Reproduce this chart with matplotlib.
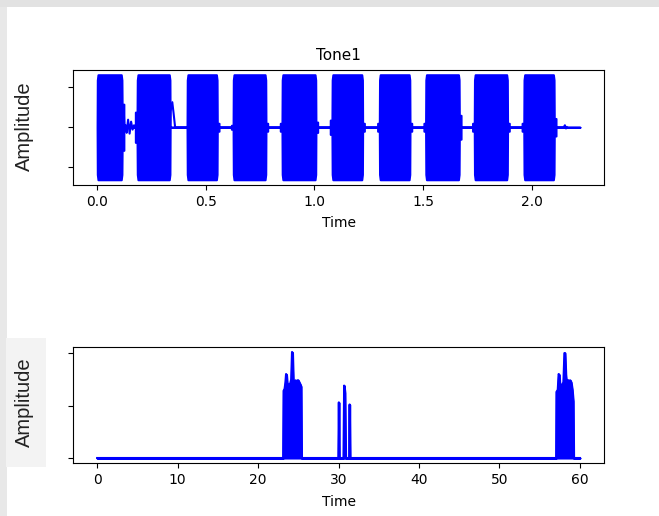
import matplotlib
matplotlib.use("Agg")
import matplotlib.pyplot as plt
from matplotlib.patches import Rectangle
import numpy as np

# ---------------- data ----------------
# Top panel "Tone1": tone bursts (seconds) and their envelope
tone_start = [0.000, 0.184, 0.414, 0.626, 0.851, 1.081, 1.299, 1.512, 1.736, 1.964]
tone_end   = [0.115, 0.336, 0.553, 0.777, 1.007, 1.222, 1.440, 1.667, 1.889, 2.104]
tone_level = 1.32
lead_shoulder = [0.0, 0.38, 0.0, 0.05, 0.10, 0.18, 0.10, 0.10, 0.10, 0.10]
tail_shoulder = [0.58, 0.0, 0.10, 0.10, 0.13, 0.10, 0.10, 0.30, 0.10, 0.22]
signal_end = 2.222

# residual ripples between tones (time, amplitude)
ripple_t = [0.121, 0.1235, 0.1265, 0.131, 0.1357, 0.1426, 0.1495, 0.1564, 0.1633,
            0.170, 0.177, 0.336, 0.338, 0.346, 0.352, 0.359,
            2.148, 2.153, 2.158, 2.163]
ripple_v = [0.45, 0.30, -0.10, 0.05, -0.14, 0.19, -0.16, 0.14, -0.06,
            0.05, 0.0, 0.0, 0.40, 0.63, 0.35, 0.0,
            0.0, 0.05, -0.03, 0.0]

# Bottom panel: envelope keyframes (time, amplitude)
low_t = [0.0,
         23.12, 23.17, 23.30, 23.40, 23.48, 23.54, 23.63, 23.80, 24.00, 24.12, 24.22, 24.28,
         24.38, 24.50, 24.63, 24.75, 24.88, 25.00, 25.12, 25.25, 25.35, 25.40,
         29.98, 30.04, 30.10,
         30.62, 30.70, 30.80, 30.88,
         31.32, 31.38, 31.44,
         57.05, 57.09, 57.25, 57.36, 57.44, 57.52, 57.77, 57.95, 58.08, 58.15, 58.24,
         58.36, 58.45, 58.60, 58.70, 58.80, 58.92, 59.05, 59.17, 59.22,
         60.0]
low_v = [0.0,
         0.0, 0.64, 0.66, 0.72, 0.80, 0.79, 0.70, 0.70, 0.71, 0.75, 1.01, 1.00,
         0.72, 0.71, 0.74, 0.72, 0.74, 0.74, 0.72, 0.70, 0.68, 0.0,
         0.0, 0.53, 0.0,
         0.0, 0.69, 0.62, 0.0,
         0.0, 0.51, 0.0,
         0.0, 0.63, 0.65, 0.80, 0.79, 0.68, 0.70, 0.72, 1.0, 1.0, 0.80,
         0.70, 0.74, 0.74, 0.70, 0.74, 0.72, 0.65, 0.54, 0.0,
         0.0]

top_title = "Tone1"
x_label = "Time"
y_label = "Amplitude"
top_xticks = [0.0, 0.5, 1.0, 1.5, 2.0]
top_yticks = [-1, 0, 1]
low_xticks = [0, 10, 20, 30, 40, 50, 60]
low_yticks = [0.0, 0.5, 1.0]

# ---------------- build top envelope from the read values ----------------
sh = 0.004
env_t = [0.0]
env_a = [0.0]
for s, e, ls, ts in zip(tone_start, tone_end, lead_shoulder, tail_shoulder):
    if ls > 0:
        env_t += [s - 2 * sh, s - 2 * sh + 1e-4, s - 1e-4]
        env_a += [0.0, ls, ls]
    else:
        env_t += [max(s - 1e-4, 0.0)]
        env_a += [0.0]
    env_t += [s + 0.001, s + sh, e - sh, e - 0.001]
    env_a += [tone_level * 0.9, tone_level, tone_level, tone_level * 0.9]
    if ts > 0:
        env_t += [e, e + 2 * sh, e + 2 * sh + 1e-4]
        env_a += [ts, ts, 0.0]
    else:
        env_t += [e + 1e-4]
        env_a += [0.0]
env_t.append(signal_end)
env_a.append(0.0)
env_t = np.array(env_t)
env_a = np.array(env_a)

# ---------------- figure ----------------
fig = plt.figure(figsize=(6.59, 5.16), dpi=100)
fig.patch.set_facecolor("white")
W, H = 659.0, 516.0

def fx(px):
    return px / W

def fy(py):
    return 1 - py / H

# screenshot frame
fig.patches.append(Rectangle((0, fy(7)), 1, 7 / H, transform=fig.transFigure,
                             facecolor="#e2e2e2", edgecolor="none", zorder=0))
fig.patches.append(Rectangle((0, 0), 7 / W, fy(7), transform=fig.transFigure,
                             facecolor="#e8e8e8", edgecolor="none", zorder=0))
fig.patches.append(Rectangle((fx(6), fy(467)), 40 / W, 129 / H, transform=fig.transFigure,
                             facecolor="#f3f3f3", edgecolor="none", zorder=0))

blue = "#0000ff"

ax1 = fig.add_axes([fx(73), fy(185), fx(604) - fx(73), fy(69.5) - fy(185)])
ax1.fill_between(env_t, -env_a, env_a, color=blue, edgecolor=blue, linewidth=1.5)
ax1.plot(ripple_t, ripple_v, color=blue, linewidth=1.5)
ax1.set_xlim(-0.111, 2.333)
ax1.set_ylim(-1.452, 1.452)
ax1.set_xticks(top_xticks)
ax1.set_xticklabels([f"{v:.1f}" for v in top_xticks])
ax1.set_yticks(top_yticks)
ax1.set_yticklabels([])
ax1.set_title(top_title, fontsize=11, pad=7)
ax1.set_xlabel(x_label, fontsize=10, labelpad=5.5)

ax2 = fig.add_axes([fx(73), fy(463.3), fx(604) - fx(73), fy(346.7) - fy(463.3)])
ax2.fill_between(low_t, 0, low_v, color=blue, edgecolor=blue, linewidth=1.5)
ax2.plot(low_t, low_v, color=blue, linewidth=1.5)
ax2.set_xlim(-3.0, 63.0)
ax2.set_ylim(-0.0505, 1.0605)
ax2.set_xticks(low_xticks)
ax2.set_yticks(low_yticks)
ax2.set_yticklabels([])
ax2.set_xlabel(x_label, fontsize=10, labelpad=5.5)

for ax in (ax1, ax2):
    ax.tick_params(labelsize=10)

fig.text(fx(24), fy(126), y_label, rotation=90, ha="center", va="center",
         fontsize=14.5, family="Liberation Sans", color="#222222")
fig.text(fx(24.5), fy(402.5), y_label, rotation=90, ha="center", va="center",
         fontsize=14.5, family="Liberation Sans", color="#222222")

fig.savefig("out.png", dpi=100, facecolor=fig.get_facecolor())
